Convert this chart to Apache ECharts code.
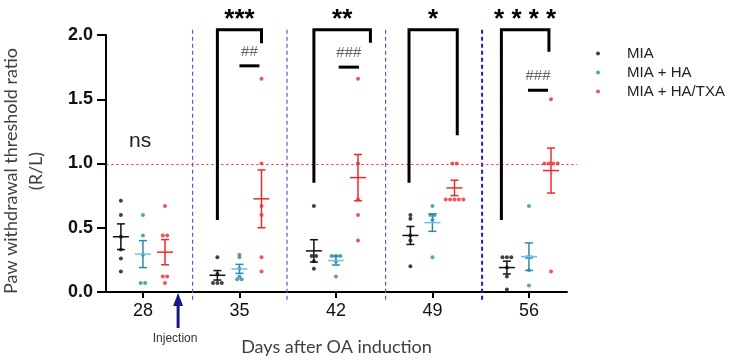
<!DOCTYPE html>
<html>
<head>
<meta charset="utf-8">
<script src="https://cdn.jsdelivr.net/npm/echarts@6/dist/echarts.min.js"></script>
</head>
<body style="margin:0">
<div id="main" style="width:747px;height:364px"></div>
<script>
// days after OA induction
const days = [28, 35, 42, 49, 56];
const groups = ['MIA', 'MIA + HA', 'MIA + HA/TXA'];

// individual R/L ratios per day
const miaPts = [
  [0.71, 0.60, 0.43, 0.33, 0.26, 0.16],
  [0.27, 0.14, 0.07, 0.07, 0.07],
  [0.67, 0.28, 0.28, 0.24, 0.18],
  [0.60, 0.57, 0.44, 0.40, 0.20],
  [0.27, 0.27, 0.27, 0.19, 0.12, 0.02]
];
const haPts = [
  [0.60, 0.44, 0.29, 0.07, 0.07],
  [0.29, 0.27, 0.18, 0.12, 0.10, 0.10],
  [0.28, 0.28, 0.28, 0.24, 0.12],
  [0.67, 0.60, 0.60, 0.56, 0.27],
  [0.67, 0.27, 0.27, 0.17, 0.05]
];
const txaPts = [
  [0.67, 0.44, 0.44, 0.12, 0.12, 0.07],
  [1.66, 1.00, 0.67, 0.60, 0.27, 0.16],
  [1.66, 1.00, 0.72, 0.60, 0.40],
  [1.00, 1.00, 0.72, 0.72, 0.72, 0.72, 0.72],
  [1.50, 1.00, 1.00, 1.00, 1.00, 0.16]
];

// mean and SEM
const miaMean = [0.43, 0.13, 0.32, 0.44, 0.19];
const miaSem = [0.10, 0.037, 0.087, 0.07, 0.05];
const haMean = [0.295, 0.18, 0.245, 0.54, 0.275];
const haSem = [0.105, 0.035, 0.035, 0.068, 0.107];
const txaMean = [0.31, 0.725, 0.89, 0.81, 0.945];
const txaSem = [0.098, 0.225, 0.18, 0.06, 0.175];

// significance brackets (MIA vs MIA + HA/TXA)
const sigLeftX = [33.4, 40.4, 47.3, 54.0];
const sigRightX = [36.6, 44.5, 50.8, 57.45];
const sigLeftLow = [0.56, 0.85, 0.85, 0.56];
const sigRightLow = [1.935, 1.94, 1.22, 1.87];
const sigTop = 2.04;
const sigStars = ['***', '**', '*', '* * * *'];

// MIA + HA vs MIA + HA/TXA
const hashX1 = [35.0, 42.2, 55.93];
const hashX2 = [36.45, 43.67, 57.38];
const hashY = [1.76, 1.75, 1.57];
const hashMarks = ['##', '###', '###'];

const dividers = [31.6, 38.45, 45.6, 52.6];
const refValue = 1.0;
const injectionDay = 30.55;

const offsets = [-1.6, 0, 1.6];
const colors = ['#111111', '#2a8ba6', '#ee2a2a'];
const meanColors = ['#111111', '#74bde6', '#ee2a2a'];

// spread equal values side by side like a dot plot
function dodge(vals, x0) {
  const out = [];
  const seen = {};
  vals.forEach(v => {
    const k = v.toFixed(2);
    seen[k] = (seen[k] || 0) + 1;
  });
  const used = {};
  vals.forEach(v => {
    const k = v.toFixed(2);
    const n = seen[k];
    const i = used[k] || 0;
    used[k] = i + 1;
    out.push([x0 + (i - (n - 1) / 2) * 0.32, v]);
  });
  return out;
}

function points(all, g) {
  let data = [];
  all.forEach((vals, i) => { data = data.concat(dodge(vals, days[i] + offsets[g])); });
  return data;
}

function bars(means, sems, g) {
  return means.map((m, i) => [days[i] + offsets[g], m, sems[i]]);
}

function renderBar(g) {
  return function (params, api) {
    const x = api.value(0), m = api.value(1), s = api.value(2);
    const c = api.coord([x, m]);
    const hi = api.coord([x, m + s])[1];
    const lo = api.coord([x, m - s])[1];
    const st = { stroke: colors[g], lineWidth: 1.5 };
    return {
      type: 'group', children: [
        { type: 'line', shape: { x1: c[0], y1: hi, x2: c[0], y2: lo }, style: st },
        { type: 'line', shape: { x1: c[0] - 4, y1: hi, x2: c[0] + 4, y2: hi }, style: st },
        { type: 'line', shape: { x1: c[0] - 4, y1: lo, x2: c[0] + 4, y2: lo }, style: st },
        { type: 'line', shape: { x1: c[0] - 8, y1: c[1], x2: c[0] + 8, y2: c[1] }, style: { stroke: meanColors[g], lineWidth: 1.5 } }
      ]
    };
  };
}

const ptsAll = [miaPts, haPts, txaPts];
const meansAll = [miaMean, haMean, txaMean];
const semsAll = [miaSem, haSem, txaSem];

const series = [];
groups.forEach((name, g) => {
  series.push({
    name: name,
    type: 'scatter',
    symbol: 'circle',
    symbolSize: 4,
    itemStyle: { color: colors[g] },
    data: points(ptsAll[g], g),
    z: 3
  });
  series.push({
    type: 'custom',
    renderItem: renderBar(g),
    encode: { x: 0, y: 1 },
    data: bars(meansAll[g], semsAll[g], g),
    z: 4
  });
});

// dashed separators between days
series.push({
  type: 'custom',
  data: dividers.map(d => [d]),
  encode: { x: 0 },
  renderItem: function (params, api) {
    const top = api.coord([api.value(0), sigTop]);
    const bot = api.coord([api.value(0), -0.08]);
    const last = params.dataIndex === dividers.length - 1;
    return {
      type: 'line',
      shape: { x1: top[0], y1: top[1], x2: bot[0], y2: bot[1] },
      style: { stroke: last ? '#1a1ad0' : '#5c5cc0', lineWidth: last ? 2 : 1.2, lineDash: [4, 3] }
    };
  },
  z: 1
});

// red dotted reference line at ratio 1.0
series.push({
  type: 'custom',
  data: [[refValue]],
  encode: { y: 0 },
  renderItem: function (params, api) {
    const a = api.coord([25.35, api.value(0)]);
    const b = api.coord([59.5, api.value(0)]);
    const y = Math.round(a[1]) + 0.5;
    return {
      type: 'line',
      shape: { x1: a[0], y1: y, x2: b[0], y2: y },
      style: { stroke: '#f02828', lineWidth: 1.2, lineDash: [2, 3] }
    };
  },
  z: 1
});

// significance brackets
series.push({
  type: 'custom',
  data: sigLeftX.map((x, i) => [x, sigRightX[i], sigLeftLow[i], sigRightLow[i]]),
  encode: { x: [0, 1], y: [2, 3] },
  renderItem: function (params, api) {
    const i = params.dataIndex;
    const l = api.coord([api.value(0), api.value(2)]);
    const r = api.coord([api.value(1), api.value(3)]);
    const t = api.coord([api.value(0), sigTop])[1];
    const st = { stroke: '#000', lineWidth: 3, fill: null };
    return {
      type: 'group', children: [
        { type: 'polyline', shape: { points: [[l[0], l[1]], [l[0], t], [r[0], t], [r[0], r[1]]] }, style: st },
        { type: 'text', x: (l[0] + r[0]) / 2, y: t - 23, style: { text: sigStars[i], align: 'center', verticalAlign: 'top', font: 'bold 26px "Liberation Sans", Arial, sans-serif', fill: '#000' } }
      ]
    };
  },
  z: 5
});

// HA vs HA/TXA lines
series.push({
  type: 'custom',
  data: hashX1.map((x, i) => [x, hashX2[i], hashY[i]]),
  encode: { x: [0, 1], y: 2 },
  renderItem: function (params, api) {
    const i = params.dataIndex;
    const a = api.coord([api.value(0), api.value(2)]);
    const b = api.coord([api.value(1), api.value(2)]);
    return {
      type: 'group', children: [
        { type: 'line', shape: { x1: a[0], y1: a[1], x2: b[0], y2: b[1] }, style: { stroke: '#000', lineWidth: 3 } },
        { type: 'text', x: (a[0] + b[0]) / 2, y: a[1] - 14, style: { text: hashMarks[i], align: 'center', verticalAlign: 'middle', font: '15px "Liberation Sans", Arial, sans-serif', fill: '#666' } }
      ]
    };
  },
  z: 5
});

// injection arrow and "ns"
series.push({
  type: 'custom',
  data: [[injectionDay, 0]],
  encode: { x: 0, y: 1 },
  renderItem: function (params, api) {
    const p = api.coord([api.value(0), api.value(1)]);
    const ns = api.coord([days[0] - 0.2, 1.17]);
    return {
      type: 'group', children: [
        { type: 'polygon', shape: { points: [[p[0], p[1] + 1], [p[0] - 5, p[1] + 14], [p[0] + 5, p[1] + 14]] }, style: { fill: '#17178a' } },
        { type: 'line', shape: { x1: p[0], y1: p[1] + 12, x2: p[0], y2: p[1] + 36 }, style: { stroke: '#17178a', lineWidth: 3 } },
        { type: 'text', x: p[0] - 3, y: p[1] + 47, style: { text: 'Injection', align: 'center', verticalAlign: 'middle', font: '12px "Liberation Sans", Arial, sans-serif', fill: '#333' } },
        { type: 'text', x: ns[0], y: ns[1], style: { text: 'ns', align: 'center', verticalAlign: 'middle', font: '21px "Liberation Sans", Arial, sans-serif', fill: '#222' } }
      ]
    };
  },
  z: 5
});

const chart = echarts.init(document.getElementById('main'));
chart.setOption({
  animation: false,
  grid: { left: 106, right: 180, top: 35, bottom: 72 },
  legend: {
    data: groups,
    orient: 'vertical',
    left: 591,
    top: 41,
    icon: 'circle',
    itemWidth: 48,
    itemHeight: 4,
    itemGap: 4,
    textStyle: { fontSize: 15, color: '#222', fontFamily: '"Liberation Sans", Arial, sans-serif' }
  },
  xAxis: {
    type: 'value',
    min: 25.32,
    max: 58.76,
    name: 'Days after OA induction',
    nameLocation: 'middle',
    nameGap: 46,
    nameTextStyle: { fontSize: 18, color: '#404040', fontFamily: 'Lato, sans-serif' },
    axisLine: { lineStyle: { color: '#000', width: 2 } },
    axisTick: { customValues: days, length: 6, lineStyle: { width: 2, color: '#000' } },
    axisLabel: { customValues: days, fontSize: 18, color: '#111', margin: 10, fontFamily: '"Liberation Sans", Arial, sans-serif' },
    splitLine: { show: false }
  },
  yAxis: {
    type: 'value',
    min: 0,
    max: 2,
    interval: 0.5,
    axisLine: { show: true, lineStyle: { color: '#000', width: 2 } },
    axisTick: { show: true, length: 9, lineStyle: { width: 2, color: '#000' } },
    axisLabel: { formatter: v => v.toFixed(1), fontSize: 18, fontWeight: 'bold', color: '#111', margin: 13, fontFamily: '"Liberation Sans", Arial, sans-serif' },
    splitLine: { show: false }
  },
  graphic: [{
    type: 'text',
    x: 24,
    y: 171,
    rotation: Math.PI / 2,
    style: {
      text: 'Paw withdrawal threshold ratio\n(R/L)',
      align: 'center',
      verticalAlign: 'middle',
      lineHeight: 25,
      font: '18px Lato, sans-serif',
      fill: '#404040'
    }
  }],
  series: series
});
</script>
</body>
</html>
